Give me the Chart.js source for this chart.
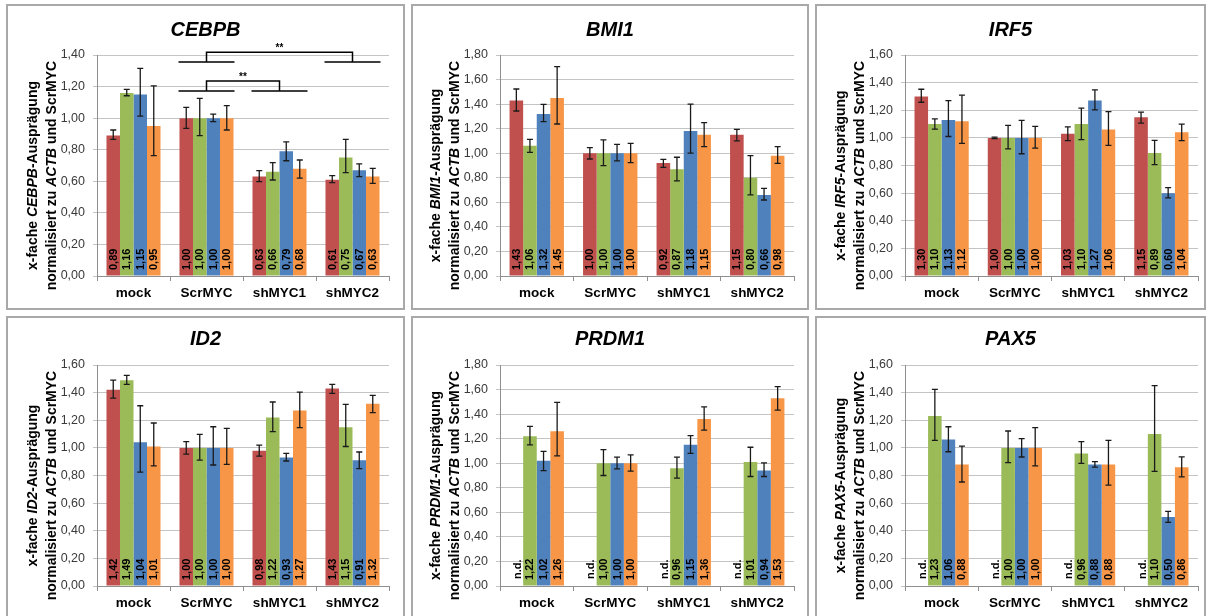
<!DOCTYPE html>
<html><head><meta charset="utf-8">
<script src="https://cdn.jsdelivr.net/npm/chart.js@4.4.1/dist/chart.umd.min.js"></script>
<style>
html,body{margin:0;padding:0;background:#fff;width:1208px;height:616px;overflow:hidden;}
.panel{position:absolute;box-sizing:border-box;border:2px solid #a9a9a9;pointer-events:none;}
canvas{position:absolute;}
</style></head><body>
<script>
// ---------- data ----------
const categories = ['mock', 'ScrMYC', 'shMYC1', 'shMYC2'];
const seriesNames = ['Reihe 1', 'Reihe 2', 'Reihe 3', 'Reihe 4'];
const yTickStep = 0.2;

// CEBPB
const cebpbRed    = [0.89, 1.00, 0.63, 0.61];
const cebpbGreen  = [1.16, 1.00, 0.66, 0.75];
const cebpbBlue   = [1.15, 1.00, 0.79, 0.67];
const cebpbOrange = [0.95, 1.00, 0.68, 0.63];
const cebpbErrUp   = [[0.035,0.068,0.037,0.026],[0.022,0.125,0.058,0.116],[0.165,0.026,0.060,0.040],[0.254,0.079,0.055,0.052]];
const cebpbErrDown = [[0.024,0.065,0.032,0.019],[0.018,0.111,0.052,0.095],[0.137,0.022,0.060,0.040],[0.188,0.075,0.060,0.043]];

// BMI1
const bmi1Red    = [1.43, 1.00, 0.92, 1.15];
const bmi1Green  = [1.06, 1.00, 0.87, 0.80];
const bmi1Blue   = [1.32, 1.00, 1.18, 0.66];
const bmi1Orange = [1.45, 1.00, 1.15, 0.98];
const bmi1ErrUp   = [[0.093,0.045,0.030,0.045],[0.053,0.108,0.097,0.180],[0.078,0.072,0.220,0.054],[0.255,0.081,0.099,0.073]];
const bmi1ErrDown = [[0.086,0.047,0.035,0.050],[0.053,0.101,0.096,0.140],[0.063,0.063,0.180,0.041],[0.212,0.077,0.097,0.062]];

// IRF5
const irf5Red    = [1.30, 1.00, 1.03, 1.15];
const irf5Green  = [1.10, 1.00, 1.10, 0.89];
const irf5Blue   = [1.13, 1.00, 1.27, 0.60];
const irf5Orange = [1.12, 1.00, 1.06, 1.04];
const irf5ErrUp   = [[0.052,0.005,0.050,0.036],[0.037,0.090,0.115,0.092],[0.140,0.126,0.077,0.040],[0.190,0.083,0.130,0.060]];
const irf5ErrDown = [[0.042,0.005,0.050,0.043],[0.036,0.080,0.113,0.084],[0.120,0.115,0.067,0.035],[0.160,0.074,0.115,0.060]];

// ID2
const id2Red    = [1.42, 1.00, 0.98, 1.43];
const id2Green  = [1.49, 1.00, 1.22, 1.15];
const id2Blue   = [1.04, 1.00, 0.93, 0.91];
const id2Orange = [1.01, 1.00, 1.27, 1.32];
const id2ErrUp   = [[0.070,0.045,0.040,0.030],[0.035,0.098,0.112,0.165],[0.265,0.153,0.030,0.060],[0.170,0.141,0.134,0.060]];
const id2ErrDown = [[0.060,0.045,0.040,0.035],[0.030,0.088,0.103,0.140],[0.215,0.124,0.025,0.060],[0.140,0.119,0.124,0.065]];

// PRDM1 (first series not determined: n.d.)
const prdm1Red    = [null, null, null, null];
const prdm1Green  = [1.22, 1.00, 0.96, 1.01];
const prdm1Blue   = [1.02, 1.00, 1.15, 0.94];
const prdm1Orange = [1.26, 1.00, 1.36, 1.53];
const prdm1ErrUp   = [[0,0,0,0],[0.080,0.110,0.089,0.120],[0.077,0.050,0.074,0.063],[0.235,0.068,0.099,0.094]];
const prdm1ErrDown = [[0,0,0,0],[0.070,0.100,0.082,0.118],[0.080,0.046,0.069,0.048],[0.200,0.065,0.090,0.098]];

// PAX5 (first series not determined: n.d.)
const pax5Red    = [null, null, null, null];
const pax5Green  = [1.23, 1.00, 0.96, 1.10];
const pax5Blue   = [1.06, 1.00, 0.88, 0.50];
const pax5Orange = [0.88, 1.00, 0.88, 0.86];
const pax5ErrUp   = [[0,0,0,0],[0.194,0.122,0.085,0.350],[0.093,0.067,0.020,0.040],[0.133,0.146,0.175,0.075]];
const pax5ErrDown = [[0,0,0,0],[0.175,0.107,0.072,0.270],[0.088,0.066,0.020,0.040],[0.127,0.131,0.150,0.070]];

const notDetermined = 'n.d.';

// ---------- styling / layout ----------
Chart.defaults.font.family = '"Liberation Sans", Arial, Helvetica, sans-serif';
Chart.defaults.animation = false;
const COLORS = ['#C0504D', '#9BBB59', '#4F81BD', '#F79646'];
const FONT = '"Liberation Sans", Arial, Helvetica, sans-serif';
const CAT_PCT = 0.74;

const COLS = [
  {left: 6,   width: 399, plotLeft: 97,  plotRight: 389},
  {left: 411, width: 398, plotLeft: 500, plotRight: 794},
  {left: 815, width: 391, plotLeft: 905, plotRight: 1198}
];
const ROWS = [
  {top: 4,   height: 306, plotTop: 55,  plotBottom: 276, titleBase: 31.7},
  {top: 316, height: 306, plotTop: 365, plotBottom: 586, titleBase: 29.2}
];

const fmt = v => v.toFixed(2).replace('.', ',');

const panels = [
  {gene: 'CEBPB', max: 1.4, row: 0, col: 0, values: [cebpbRed, cebpbGreen, cebpbBlue, cebpbOrange], up: cebpbErrUp, down: cebpbErrDown,
   brackets: [{from: 1, to: 3, top: 1.418, base: 1.355, text: '**'}, {from: 1, to: 2, top: 1.235, base: 1.172, text: '**'}]},
  {gene: 'BMI1', max: 1.8, row: 0, col: 1, values: [bmi1Red, bmi1Green, bmi1Blue, bmi1Orange], up: bmi1ErrUp, down: bmi1ErrDown},
  {gene: 'IRF5', max: 1.6, row: 0, col: 2, values: [irf5Red, irf5Green, irf5Blue, irf5Orange], up: irf5ErrUp, down: irf5ErrDown},
  {gene: 'ID2', max: 1.6, row: 1, col: 0, values: [id2Red, id2Green, id2Blue, id2Orange], up: id2ErrUp, down: id2ErrDown},
  {gene: 'PRDM1', max: 1.8, row: 1, col: 1, values: [prdm1Red, prdm1Green, prdm1Blue, prdm1Orange], up: prdm1ErrUp, down: prdm1ErrDown},
  {gene: 'PAX5', max: 1.6, row: 1, col: 2, values: [pax5Red, pax5Green, pax5Blue, pax5Orange], up: pax5ErrUp, down: pax5ErrDown}
];

function drawVertical(ctx, text, x, y, font, color) {
  ctx.save();
  ctx.translate(x, y);
  ctx.rotate(-Math.PI / 2);
  ctx.font = font;
  ctx.fillStyle = color;
  ctx.textAlign = 'left';
  ctx.textBaseline = 'middle';
  ctx.fillText(text, 0, 0.5);
  ctx.restore();
}

function drawRich(ctx, segs, cx, cy) {
  let total = 0;
  segs.forEach(s => {
    ctx.font = (s.it ? 'italic ' : '') + 'bold 14px ' + FONT;
    s.w = ctx.measureText(s.t).width; total += s.w;
  });
  let x = cx - total / 2;
  segs.forEach(s => {
    ctx.font = (s.it ? 'italic ' : '') + 'bold 14px ' + FONT;
    ctx.fillText(s.t, x, cy); x += s.w;
  });
}

const decoPlugin = {
  id: 'deco',
  afterDatasetsDraw(chart, args, o) {
    const ctx = chart.ctx;
    const xs = chart.scales.x, ys = chart.scales.y;
    const zeroY = ys.getPixelForValue(0);
    const catW = xs.getPixelForValue(1) - xs.getPixelForValue(0);
    const barW = catW * CAT_PCT / 4;
    ctx.save();
    chart.data.datasets.forEach((ds, di) => {
      const meta = chart.getDatasetMeta(di);
      ds.data.forEach((v, i) => {
        let bx = meta.data[i] ? meta.data[i].x : NaN;
        if (!isFinite(bx)) bx = xs.getPixelForValue(i) + (di - 1.5) * barW;
        if (v === null) {
          drawVertical(ctx, notDetermined, bx + 1, zeroY - 7, 'bold 11px ' + FONT, '#000');
          return;
        }
        const yt = ys.getPixelForValue(v + o.up[di][i]);
        const yb = ys.getPixelForValue(v - o.down[di][i]);
        ctx.strokeStyle = '#1a1a1a';
        ctx.lineWidth = 1.3;
        ctx.beginPath();
        ctx.moveTo(bx, yt); ctx.lineTo(bx, yb);
        ctx.moveTo(bx - 3, yt); ctx.lineTo(bx + 3, yt);
        ctx.moveTo(bx - 3, yb); ctx.lineTo(bx + 3, yb);
        ctx.stroke();
        drawVertical(ctx, fmt(v), bx, zeroY - 6, 'bold 11px ' + FONT, '#000');
      });
    });
    ctx.restore();
  },
  afterDraw(chart, args, o) {
    const ctx = chart.ctx;
    const xs = chart.scales.x, ys = chart.scales.y;
    const area = chart.chartArea;
    ctx.save();
    // title
    ctx.font = 'italic bold 20px ' + FONT;
    ctx.fillStyle = '#000';
    ctx.textAlign = 'center';
    ctx.textBaseline = 'alphabetic';
    ctx.fillText(o.gene, chart.width / 2, o.titleBase);
    // y-axis title (two lines, gene names italic)
    ctx.save();
    ctx.translate(area.left, (area.top + area.bottom) / 2 + 10);
    ctx.rotate(-Math.PI / 2);
    ctx.textAlign = 'left';
    ctx.textBaseline = 'middle';
    ctx.fillStyle = '#000';
    drawRich(ctx, [{t: 'x-fache ', it: false}, {t: o.gene, it: true}, {t: '-Ausprägung', it: false}], 0, -64);
    drawRich(ctx, [{t: 'normalisiert zu ', it: false}, {t: 'ACTB', it: true}, {t: ' und ScrMYC', it: false}], 0, -45);
    ctx.restore();
    // significance brackets
    if (o.brackets) {
      const catW = xs.getPixelForValue(1) - xs.getPixelForValue(0);
      const half = catW * CAT_PCT / 2 + 1;
      ctx.strokeStyle = '#000';
      ctx.lineWidth = 1.5;
      o.brackets.forEach(b => {
        const x1 = xs.getPixelForValue(b.from), x2 = xs.getPixelForValue(b.to);
        const yT = ys.getPixelForValue(b.top), yB = ys.getPixelForValue(b.base);
        ctx.beginPath();
        ctx.moveTo(x1, yB); ctx.lineTo(x1, yT); ctx.lineTo(x2, yT); ctx.lineTo(x2, yB);
        ctx.moveTo(x1 - half, yB); ctx.lineTo(x1 + half, yB);
        ctx.moveTo(x2 - half, yB); ctx.lineTo(x2 + half, yB);
        ctx.stroke();
        ctx.font = 'bold 10px ' + FONT;
        ctx.textAlign = 'center';
        ctx.textBaseline = 'alphabetic';
        ctx.fillText(b.text, (x1 + x2) / 2, yT - 1.5);
      });
    }
    ctx.restore();
  }
};

panels.forEach(p => {
  const col = COLS[p.col], row = ROWS[p.row];
  const div = document.createElement('div');
  div.className = 'panel';
  Object.assign(div.style, {left: col.left + 'px', top: row.top + 'px', width: col.width + 'px', height: row.height + 'px'});
  const cv = document.createElement('canvas');
  cv.width = col.width; cv.height = row.height;
  Object.assign(cv.style, {left: col.left + 'px', top: row.top + 'px', width: col.width + 'px', height: row.height + 'px'});
  document.body.appendChild(cv);
  document.body.appendChild(div);

  const chartLeft = col.plotLeft - col.left;
  const chartRight = col.plotRight - col.left;
  const chartTop = row.plotTop - row.top;
  const chartBottom = row.plotBottom - row.top;

  new Chart(cv, {
    type: 'bar',
    data: {
      labels: categories,
      datasets: p.values.map((vals, i) => ({
        label: seriesNames[i],
        data: vals,
        backgroundColor: COLORS[i],
        borderWidth: 0,
        categoryPercentage: CAT_PCT,
        barPercentage: 1.0
      }))
    },
    options: {
      responsive: false,
      devicePixelRatio: 1,
      animation: false,
      layout: {padding: {top: chartTop, left: 0, right: col.width - chartRight, bottom: 0}},
      plugins: {
        legend: {display: false},
        title: {display: false},
        tooltip: {enabled: false},
        deco: {gene: p.gene, up: p.up, down: p.down, brackets: p.brackets, titleBase: row.titleBase}
      },
      scales: {
        x: {
          grid: {display: true, drawOnChartArea: false, drawTicks: true, tickLength: 5, color: '#8f8f8f', offset: true},
          border: {display: true, color: '#8f8f8f', width: 1},
          ticks: {color: '#000', font: {size: 13.5, weight: 'bold'}, padding: 4, maxRotation: 0, autoSkip: false},
          afterFit: s => { s.height = row.height - chartBottom; }
        },
        y: {
          min: 0, max: p.max,
          grid: {color: '#c4c4c4', tickLength: 4, drawTicks: true},
          border: {display: true, color: '#8f8f8f', width: 1},
          ticks: {stepSize: yTickStep, color: '#3a3a3a', font: {size: 12.5}, padding: 8, callback: v => fmt(v)},
          afterFit: s => { s.width = chartLeft; }
        }
      }
    },
    plugins: [decoPlugin]
  });
});
</script>
</body></html>
